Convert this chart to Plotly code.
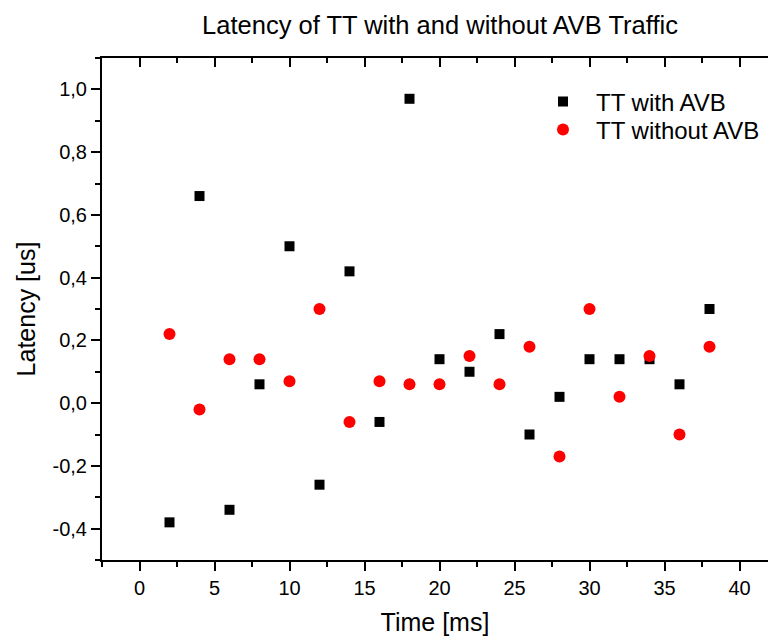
import plotly.graph_objects as go

time_ms = [2, 4, 6, 8, 10, 12, 14, 16, 18, 20, 22, 24, 26, 28, 30, 32, 34, 36, 38]
tt_with_avb = [-0.38, 0.66, -0.34, 0.06, 0.50, -0.26, 0.42, -0.06, 0.97, 0.14,
               0.10, 0.22, -0.10, 0.02, 0.14, 0.14, 0.14, 0.06, 0.30]
tt_without_avb = [0.22, -0.02, 0.14, 0.14, 0.07, 0.30, -0.06, 0.07, 0.06, 0.06,
                  0.15, 0.06, 0.18, -0.17, 0.30, 0.02, 0.15, -0.10, 0.18]

x_tickvals = [0, 5, 10, 15, 20, 25, 30, 35, 40]
x_ticktext = ["0", "5", "10", "15", "20", "25", "30", "35", "40"]
y_tickvals = [-0.4, -0.2, 0.0, 0.2, 0.4, 0.6, 0.8, 1.0]
y_ticktext = ["-0,4", "-0,2", "0,0", "0,2", "0,4", "0,6", "0,8", "1,0"]

FONT = "Liberation Sans, Arial, sans-serif"
L, T, B = 102, 58, 79
PW, PH = 768 - L, 639 - T - B
xr = [-2.5, -2.5 + PW / 15.0]
yr = [-0.5, 1.1]

fig = go.Figure()
fig.add_trace(go.Scatter(x=time_ms, y=tt_with_avb, mode="markers", name="TT with AVB",
                         marker=dict(symbol="square", size=10, color="black"), legend="legend"))
fig.add_trace(go.Scatter(x=time_ms, y=tt_without_avb, mode="markers", name="TT without AVB",
                         marker=dict(symbol="circle", size=12, color="#ff0000"), legend="legend2"))
# invisible trace to activate top axis
fig.add_trace(go.Scatter(x=[None], y=[None], xaxis="x2", showlegend=False, hoverinfo="skip"))

def py(p):
    return 1 - (p - T) / PH

leg_common = dict(xanchor="left", yanchor="middle", xref="paper", yref="paper",
                  bgcolor="rgba(0,0,0,0)", font=dict(size=24, family=FONT), itemwidth=56)

fig.update_layout(
    width=768, height=639,
    margin=dict(l=L, r=0, t=T, b=B, autoexpand=False),
    plot_bgcolor="white", paper_bgcolor="white",
    font=dict(family=FONT, color="black", size=20),
    title=dict(text="Latency of TT with and without AVB Traffic", x=440/768, xanchor="center",
               y=1 - 25/639, yanchor="middle", xref="container", yref="container",
               font=dict(size=25.5, family=FONT)),
    xaxis=dict(range=xr, showgrid=False, zeroline=False, showline=True, linecolor="black", linewidth=2,
               automargin=False,
               ticks="outside", ticklen=9, tickwidth=1.5, tickcolor="black",
               tickmode="array", tickvals=x_tickvals, ticktext=x_ticktext,
               minor=dict(ticks="outside", ticklen=5, tickwidth=1.5, tickcolor="black", dtick=2.5, tick0=0),
               tickfont=dict(size=20),
               title=dict(text="Time [ms]", font=dict(size=25), standoff=15)),
    xaxis2=dict(range=xr, overlaying="x", side="top", showgrid=False, zeroline=False, showline=True,
                automargin=False,
                linecolor="black", linewidth=2, ticks="inside", ticklen=9, tickwidth=1.5, tickcolor="black",
                tickmode="array", tickvals=x_tickvals, showticklabels=False,
                minor=dict(ticks="inside", ticklen=5, tickwidth=1.5, tickcolor="black", dtick=2.5, tick0=0)),
    yaxis=dict(range=yr, showgrid=False, zeroline=False, showline=True, linecolor="black", linewidth=2,
               automargin=False,
               ticks="outside", ticklen=9, tickwidth=1.5, tickcolor="black",
               tickmode="array", tickvals=y_tickvals, ticktext=y_ticktext,
               minor=dict(ticks="outside", ticklen=5, tickwidth=1.5, tickcolor="black", dtick=0.1, tick0=0),
               tickfont=dict(size=20),
               title=dict(text="Latency [us]", font=dict(size=25), standoff=10)),
    legend=dict(x=(530 - L) / PW, y=py(102), **leg_common),
    legend2=dict(x=(530 - L) / PW, y=py(130), **leg_common),
    showlegend=True,
)

fig.write_html("out.html", post_script="document.body.style.margin='0';",
               config={"displayModeBar": False})
